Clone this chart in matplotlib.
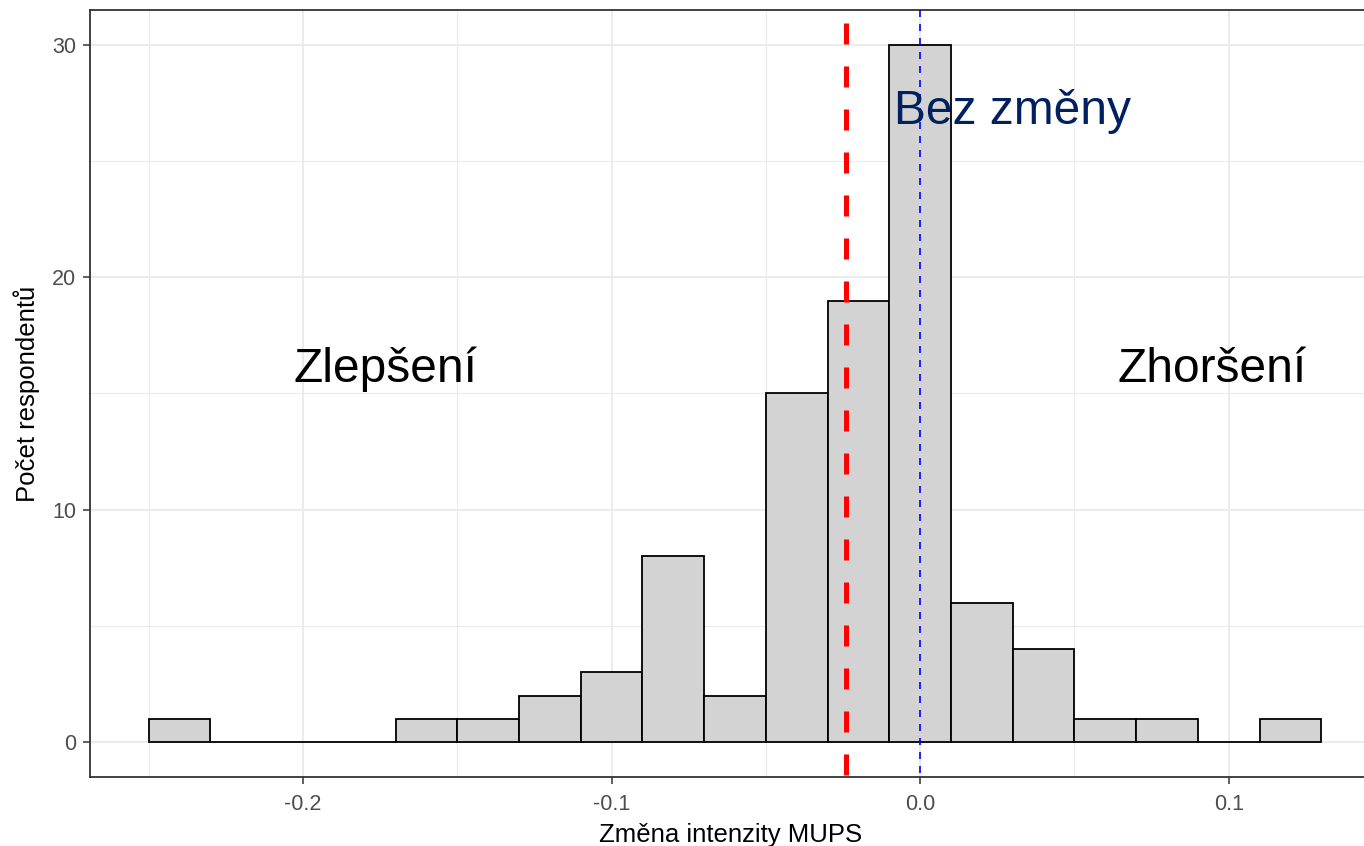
import matplotlib
matplotlib.use("Agg")
import matplotlib.pyplot as plt
import numpy as np

plt.rcParams['font.family'] = ['Liberation Sans', 'DejaVu Sans']

# Histogram bins (left edges) and counts
bin_left = [-0.25, -0.23, -0.21, -0.19, -0.17, -0.15, -0.13, -0.11, -0.09, -0.07,
            -0.05, -0.03, -0.01, 0.01, 0.03, 0.05, 0.07, 0.09, 0.11]
counts = [1, 0, 0, 0, 1, 1, 2, 3, 8, 2, 15, 19, 30, 6, 4, 1, 1, 0, 1]
bin_width = 0.02
mean_change = -0.024
no_change = 0.0

x_ticks = [-0.2, -0.1, 0.0, 0.1]
x_tick_labels = ["-0.2", "-0.1", "0.0", "0.1"]
y_ticks = [0, 10, 20, 30]

W, H = 1364, 846
fig = plt.figure(figsize=(W / 100, H / 100), dpi=100)
left, right, bottom, top = 90, 1380, 69, 836
ax = fig.add_axes([left / W, bottom / H, (right - left) / W, (top - bottom) / H])

ymin, ymax = -1.5, 31.5
ax.set_xlim(-0.269, 0.149)
ax.set_ylim(ymin, ymax)

# grid
for v in [-0.25, -0.15, -0.05, 0.05]:
    ax.axvline(v, color='#EBEBEB', lw=0.8, zorder=0)
for v in [5, 15, 25]:
    ax.axhline(v, color='#EBEBEB', lw=0.8, zorder=0)
for v in x_ticks:
    ax.axvline(v, color='#EBEBEB', lw=1.4, zorder=0)
for v in y_ticks:
    ax.axhline(v, color='#EBEBEB', lw=1.4, zorder=0)

ax.bar(bin_left, counts, width=bin_width, align='edge', color='#D3D3D3',
       edgecolor='black', linewidth=1.3, zorder=2)

ax.plot([mean_change, mean_change], [ymax, ymin], color='#FF0000', lw=3.6,
        linestyle=(6.0, (4.2, 4.4)), zorder=3, solid_capstyle='butt',
        dash_capstyle='butt')
ax.plot([no_change, no_change], [ymax, ymin], color='#0000FF', lw=1.2,
        linestyle=(0, (4.2, 4.2)), zorder=3, dash_capstyle='butt')

ax.text(-0.0085, 26.6, "Bez změny", color='#002060', fontsize=34.5, ha='left',
        va='baseline', zorder=4)
ax.text(-0.2029, 15.5, "Zlepšení", color='black', fontsize=34.5, ha='left',
        va='baseline', zorder=4)
ax.text(0.0638, 15.5, "Zhoršení", color='black', fontsize=34.5, ha='left',
        va='baseline', zorder=4)

ax.set_xticks(x_ticks)
ax.set_xticklabels(x_tick_labels)
ax.set_yticks(y_ticks)
ax.tick_params(axis='both', length=5, width=1.1, color='#333333',
               labelcolor='#4D4D4D', labelsize=15.5)
ax.tick_params(axis='x', pad=7)
ax.tick_params(axis='y', pad=5)

for s in ax.spines.values():
    s.set_color('#333333')
    s.set_linewidth(1.3)

ax.set_xlabel("Změna intenzity MUPS", fontsize=18.5, color='black')
ax.set_ylabel("Počet respondentů", fontsize=18.5, color='black')
ax.xaxis.set_label_coords((731 - left) / (right - left), -(823 - 777) / (top - bottom))
ax.yaxis.set_label_coords(-(90 - 40) / (right - left), 0.5)
ax.xaxis.label.set_va('top')

fig.savefig("out.png", dpi=100)
